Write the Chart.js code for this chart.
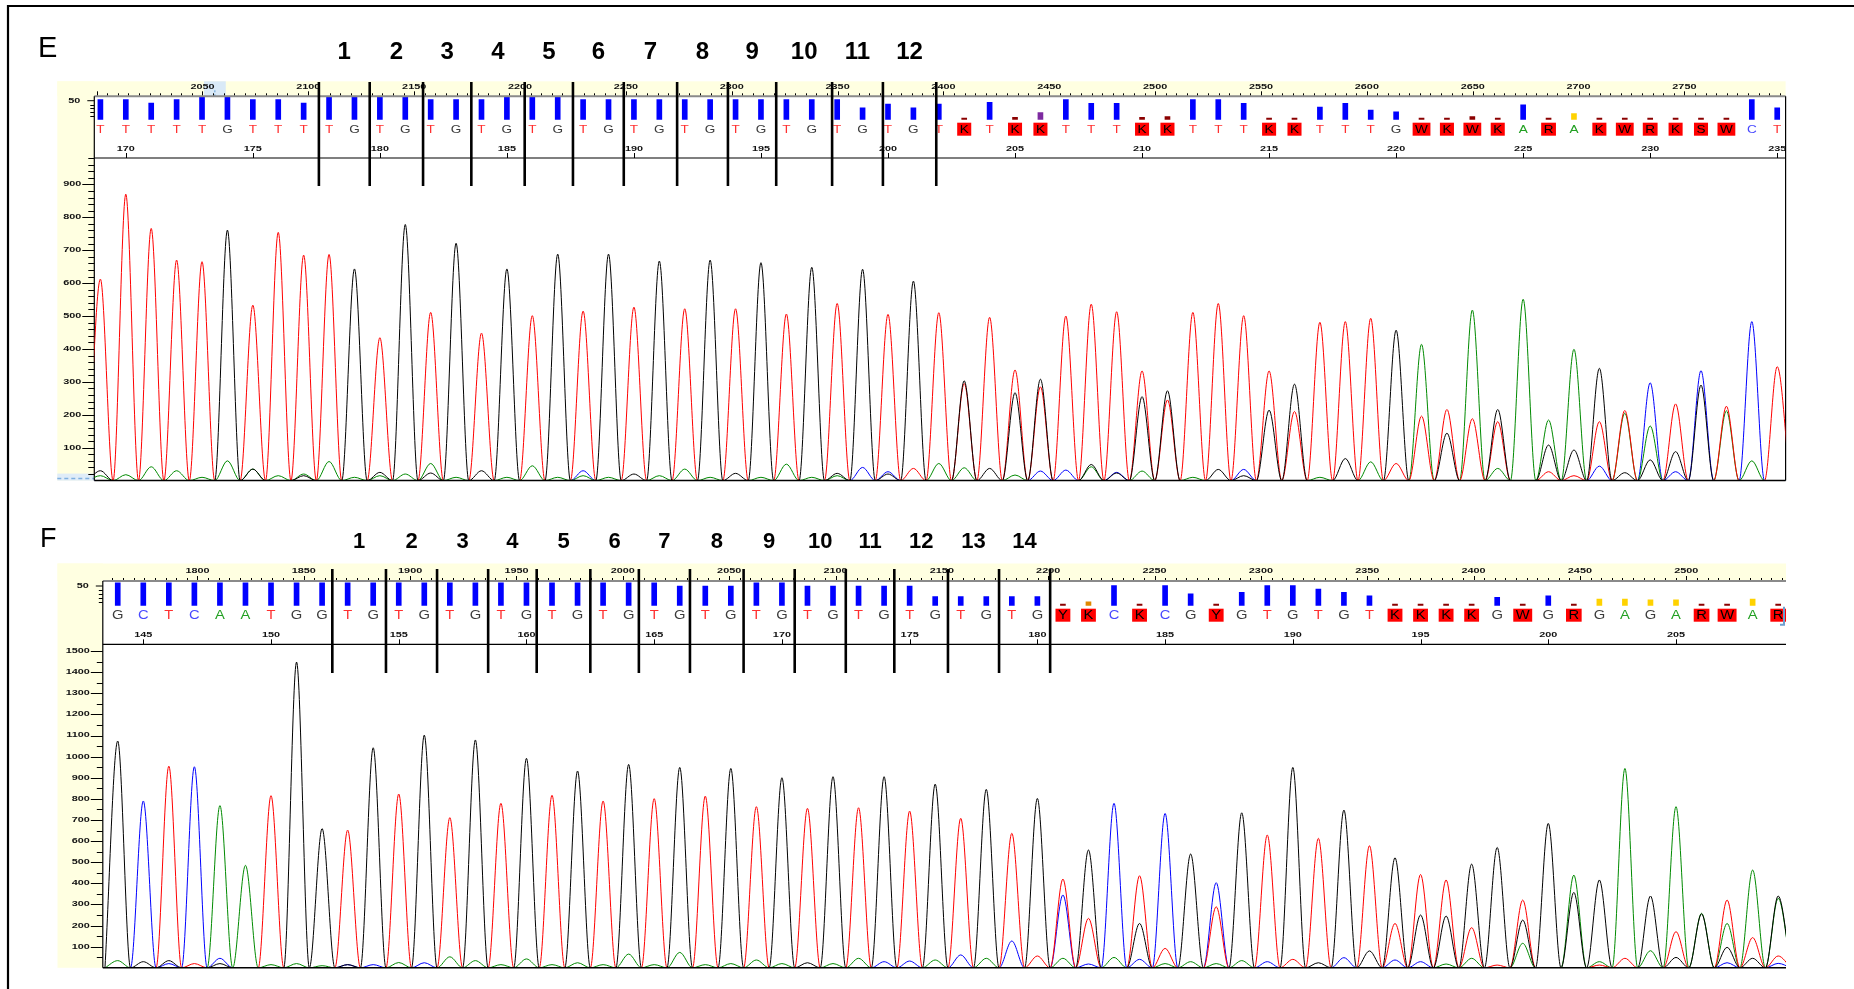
<!DOCTYPE html>
<html>
<head>
<meta charset="utf-8">
<script src="https://cdn.jsdelivr.net/npm/chart.js@4.4.1/dist/chart.umd.min.js"></script>
<style>
  html, body { margin: 0; padding: 0; background: #fff; }
  #wrap { position: relative; width: 1854px; height: 989px; overflow: hidden; }
  #wrap canvas { position: absolute; left: 0; top: 0; }
</style>
</head>
<body>
<div id="wrap">
  <canvas id="hdrE" width="1854" height="989"></canvas>
  <canvas id="trE" width="1854" height="989"></canvas>
  <canvas id="hdrF" width="1854" height="989"></canvas>
  <canvas id="trF" width="1854" height="989"></canvas>
</div>
<script>
// ---- Panel E data (bases 169..235) ----
const firstE = 169;
const basesE = ('TTTTTGTTTT' + 'GTGTGTGTGTGTGTGTGTGTGT' + 'GT' + 'KTKKTTTKKTTTKKTTTG' + 'WKWKARAKWRKSWCT').split('');
const peakT_E = [612, 870, 766, 670, 665, 0, 533, 754, 685, 687, 0, 434, 0, 511, 0, 448, 0, 501, 0, 515,
  0, 527, 0, 522, 0, 522, 0, 506, 0, 538, 0, 505, 37, 510, 295, 496, 336, 285, 500, 536,
  513, 333, 245, 511, 538, 501, 333, 210, 481, 483, 493, 52, 196, 216, 188, 179, 0, 27, 15, 179,
  213, 0, 233, 0, 226, 0, 346];
const peakG_E = [30, 0, 0, 0, 0, 761, 35, 0, 15, 0, 643, 25, 778, 23, 721, 30, 643, 0, 688, 0,
  688, 20, 667, 0, 670, 22, 662, 0, 648, 22, 642, 20, 606, 0, 303, 37, 267, 308, 0, 49,
  23, 255, 273, 0, 34, 15, 214, 293, 0, 67, 0, 457, 0, 144, 0, 216, 0, 108, 93, 341,
  24, 63, 88, 290, 0, 0, 0];
const peakA_E = [15, 18, 42, 30, 10, 60, 35, 15, 20, 58, 10, 15, 20, 52, 10, 0, 10, 45, 10, 15,
  10, 0, 15, 35, 10, 0, 10, 50, 10, 15, 0, 0, 0, 52, 39, 0, 17, 0, 0, 42,
  0, 29, 0, 10, 0, 0, 0, 0, 10, 0, 57, 0, 414, 0, 518, 37, 551, 184, 399, 0,
  205, 166, 0, 0, 212, 60, 0];
const peakC_E = [0, 0, 0, 0, 0, 0, 0, 0, 0, 0, 0, 0, 0, 0, 0, 0, 0, 0, 0, 30,
  0, 0, 0, 0, 0, 0, 0, 0, 0, 0, 40, 27, 0, 0, 0, 0, 0, 29, 32, 0,
  25, 0, 0, 0, 0, 34, 0, 0, 0, 0, 0, 0, 0, 0, 0, 0, 0, 0, 0, 44,
  0, 297, 27, 334, 0, 483, 0];
const qualE = [53, 53, 44, 53, 59, 59, 53, 53, 44, 59, 59, 59, 59, 53, 53, 53, 59, 59, 59, 53,
  53, 53, 53, 53, 53, 53, 53, 53, 53, 53, 31, 41, 31, 41, 4, 46, 6, 19, 53, 43,
  43, 6, 8, 53, 53, 43, 4, 4, 33, 43, 25, 21, 4, 4, 8, 4, 39, 4, 16, 4,
  4, 4, 4, 4, 4, 53, 31];
const scanLabelsE = [2050, 2100, 2150, 2200, 2250, 2300, 2350, 2400, 2450, 2500, 2550, 2600, 2650, 2700, 2750];
const posLabelsE = [170, 175, 180, 185, 190, 195, 200, 205, 210, 215, 220, 225, 230, 235];
const yTicksE = [100, 200, 300, 400, 500, 600, 700, 800, 900];
const markersE = [177.6, 179.6, 181.7, 183.6, 185.7, 187.6, 189.6, 191.7, 193.7, 195.6, 197.8, 199.8, 201.9];

// ---- Panel F data (bases 144..209) ----
const firstF = 144;
const basesF = ('GCTCAAT' + 'GG' + 'TGTGTGTGTGTGTGTGTGTGTGTGTGTG' + 'YKCKCGYGTGTGT' + 'KKKK' + 'GWGRGAGARWAR').split('');
const peakT_F = [0, 0, 955, 20, 0, 0, 815, 0, 0, 652, 0, 823, 0, 711, 0, 779, 0, 817, 0, 790,
  0, 801, 0, 813, 0, 763, 0, 755, 0, 758, 0, 742, 0, 708, 0, 637, 56, 420, 234, 0,
  436, 92, 0, 289, 0, 629, 40, 613, 0, 578, 210, 442, 416, 190, 13, 321, 0, 0, 13, 45,
  0, 171, 0, 321, 143, 56];
const peakG_F = [1074, 29, 34, 0, 20, 0, 0, 1448, 659, 15, 1042, 0, 1102, 0, 1079, 0, 992, 0, 932, 0,
  963, 0, 949, 0, 944, 0, 900, 24, 905, 0, 905, 0, 870, 0, 845, 0, 802, 0, 558, 0,
  210, 0, 539, 0, 734, 0, 949, 24, 747, 80, 521, 250, 245, 491, 570, 226, 684, 357, 416, 0,
  340, 49, 255, 97, 45, 340];
const peakA_F = [34, 0, 0, 0, 768, 485, 15, 20, 10, 0, 0, 25, 0, 52, 34, 15, 42, 15, 24, 15,
  65, 15, 73, 15, 20, 37, 20, 0, 20, 45, 0, 0, 37, 0, 45, 0, 0, 45, 0, 49,
  0, 20, 29, 20, 34, 0, 0, 0, 0, 0, 0, 0, 18, 45, 0, 116, 0, 439, 29, 944,
  81, 763, 258, 210, 463, 329];
const peakC_F = [0, 790, 20, 952, 45, 0, 0, 0, 0, 15, 15, 0, 24, 0, 0, 0, 0, 0, 0, 0,
  0, 0, 0, 0, 0, 0, 0, 0, 0, 0, 29, 32, 0, 61, 0, 127, 0, 345, 18, 779,
  40, 731, 0, 403, 0, 29, 0, 0, 48, 0, 37, 29, 0, 0, 0, 0, 0, 0, 0, 0,
  0, 0, 0, 24, 0, 21];
const qualF = [58, 58, 58, 58, 58, 58, 58, 58, 58, 58, 58, 58, 58, 58, 58, 58, 58, 58, 58, 58,
  58, 58, 50, 50, 50, 58, 58, 50, 50, 50, 50, 50, 23, 23, 23, 23, 23, 4, 10, 51,
  4, 51, 30, 4, 34, 51, 51, 42, 34, 25, 4, 4, 4, 4, 21, 4, 25, 4, 17, 17,
  15, 15, 4, 4, 17, 4];
const scanLabelsF = [1800, 1850, 1900, 1950, 2000, 2050, 2100, 2150, 2200, 2250, 2300, 2350, 2400, 2450, 2500];
const posLabelsF = [145, 150, 155, 160, 165, 170, 175, 180, 185, 190, 195, 200, 205];
const yTicksF = [100, 200, 300, 400, 500, 600, 700, 800, 900, 1000, 1100, 1200, 1300, 1400, 1500];
const markersF = [152.4, 154.5, 156.5, 158.5, 160.4, 162.5, 164.4, 166.4, 168.5, 170.5, 172.5, 174.4, 176.5, 178.5, 180.5];

// ---- layout ----
const W = 1854, H = 989;
const YELLOW = '#ffffe1';
const SMALL = 'bold 7px "Liberation Sans", Arial, sans-serif';
const SX = 1.55;
const AMBIG = 'KWRSYMBDHVN';
const letterColor = { T: '#ff3030', G: '#3c3c3c', A: '#22a022', C: '#4848ff' };

const geoE = {
  left: 94.3, right: 1785.6, plotTop: 158, plotBottom: 480.6, yMax: 980, yMinor: 20,
  rulerY: 96.3, barsBottom: 119.7, qMax: 61.6, hdrTop: 81.3, stripLeft: 57.3,
  xMin: 168.76, xMax: 235.33, scanMin: 1998.9, scanMax: 2797.8,
  markTop: 82, markBottom: 186, numY: 52, numSize: 24, baseFont: 11.5,
  letter: 'E', letterX: 38, letterY: 49, letterSize: 29, rightBorder: true, frame: true,
  highlight: [2050.7, 2061]
};
const geoF = {
  left: 102.8, right: 1786, plotTop: 644.3, plotBottom: 967.8, yMax: 1532, yMinor: 50,
  rulerY: 581, barsBottom: 605.7, qMax: 62.7, hdrTop: 563.5, stripLeft: 57.5,
  xMin: 143.415, xMax: 209.306, scanMin: 1755.5, scanMax: 2546.9,
  markTop: 569, markBottom: 673, numY: 542, numSize: 22, baseFont: 12.5,
  letter: 'F', letterX: 40, letterY: 540, letterSize: 27, rightBorder: false, frame: false,
  bracket: true
};

function txt(ctx, s, x, y, font, color, align, sx) {
  ctx.save();
  ctx.font = font;
  ctx.fillStyle = color;
  ctx.textBaseline = 'middle';
  ctx.textAlign = align || 'center';
  ctx.translate(x, y);
  ctx.scale(sx || 1, 1);
  ctx.fillText(s, 0, 0);
  ctx.restore();
}

function hline(ctx, x1, x2, y, color, w) {
  ctx.beginPath(); ctx.strokeStyle = color; ctx.lineWidth = w;
  ctx.moveTo(x1, y); ctx.lineTo(x2, y); ctx.stroke();
}
function vline(ctx, x, y1, y2, color, w) {
  ctx.beginPath(); ctx.strokeStyle = color; ctx.lineWidth = w;
  ctx.moveTo(x, y1); ctx.lineTo(x, y2); ctx.stroke();
}

function qvColor(q) {
  if (q >= 20) return '#0000ff';
  if (q >= 18) return '#7d2aa0';
  if (q >= 13) return '#ffd200';
  if (q >= 9) return '#e08800';
  return '#8b0000';
}

// one apex per base, with valleys half a base either side
function traceData(first, heights) {
  const pts = [];
  heights.forEach((h, i) => {
    pts.push({ x: first + i - 0.5, y: 0 });
    pts.push({ x: first + i, y: h });
  });
  pts.push({ x: first + heights.length - 0.5, y: 0 });
  return pts;
}

function padding(g, top, bottom) {
  return { left: g.left, right: W - g.right, top: top, bottom: H - bottom };
}

function headerChart(id, g, first, bases, qual, scanLabels, posLabels) {
  const baseFont = g.baseFont + 'px "Liberation Sans", Arial, sans-serif';
  return new Chart(document.getElementById(id), {
    type: 'bar',
    data: {
      datasets: [{
        data: qual.map((q, i) => ({ x: first + i, y: q })),
        backgroundColor: qual.map(qvColor),
        barThickness: 5,
        grouped: false,
        xAxisID: 'x',
        yAxisID: 'y'
      }]
    },
    options: {
      responsive: false,
      animation: false,
      events: [],
      layout: { padding: padding(g, g.rulerY, g.barsBottom) },
      plugins: { legend: { display: false }, tooltip: { enabled: false } },
      scales: {
        x: { type: 'linear', min: g.xMin, max: g.xMax, offset: false, display: false },
        xs: { type: 'linear', axis: 'x', min: g.scanMin, max: g.scanMax, offset: false, display: false },
        y: { type: 'linear', min: 0, max: g.qMax, display: false }
      }
    },
    plugins: [{
      id: 'header',
      beforeDraw(chart) {
        const ctx = chart.ctx, xs = chart.scales.xs;
        ctx.save();
        ctx.fillStyle = YELLOW;
        ctx.fillRect(g.stripLeft, g.hdrTop, g.right - g.stripLeft, g.rulerY - g.hdrTop);
        ctx.fillRect(g.stripLeft, g.hdrTop, g.left - g.stripLeft, g.plotBottom - g.hdrTop);
        if (g.highlight) {
          const a = xs.getPixelForValue(g.highlight[0]), b = xs.getPixelForValue(g.highlight[1]);
          ctx.fillStyle = '#d9e9f7';
          ctx.fillRect(a, g.hdrTop, b - a, g.rulerY - g.hdrTop);
          ctx.setLineDash([2, 2]);
          vline(ctx, (a + b) / 2, g.rulerY - 6, g.rulerY, '#5b9bd5', 1);
          ctx.setLineDash([]);
          // light blue marker at the lower left corner
          ctx.fillStyle = '#dfecf8';
          ctx.fillRect(g.stripLeft, g.plotBottom - 7, g.left - g.stripLeft, 7);
          ctx.setLineDash([4, 3]);
          hline(ctx, g.stripLeft, g.left, g.plotBottom - 2, '#7fb0e0', 1.5);
          ctx.setLineDash([]);
        }
        ctx.restore();
      },
      afterDraw(chart) {
        const ctx = chart.ctx, x = chart.scales.x, xs = chart.scales.xs, y = chart.scales.y;
        ctx.save();
        // scan ruler
        hline(ctx, g.left, g.right, g.rulerY, '#8a8a8a', 2);
        for (let s = Math.ceil(g.scanMin / 5) * 5; s <= g.scanMax; s += 5) {
          const px = Math.round(xs.getPixelForValue(s)) + 0.5;
          vline(ctx, px, g.rulerY - 1, g.rulerY - (s % 50 === 0 ? 5 : 3), '#000', 1);
        }
        scanLabels.forEach(s => txt(ctx, String(s), xs.getPixelForValue(s), g.rulerY - 9.5, SMALL, '#111', 'center', SX));
        // quality axis
        txt(ctx, '50', g.left - 14, y.getPixelForValue(50), SMALL, '#111', 'right', SX);
        hline(ctx, g.left - 7, g.left, y.getPixelForValue(50), '#000', 1);
        [10, 20, 30, 40].forEach(q => hline(ctx, g.left - 4, g.left, Math.round(y.getPixelForValue(q)) + 0.5, '#000', 1));
        // base calls
        bases.forEach((b, i) => {
          const px = x.getPixelForValue(first + i);
          const py = g.barsBottom + 9.5;
          if (px < g.left - 4 || px > g.right + 4) return;
          if (AMBIG.includes(b)) {
            ctx.font = baseFont;
            const w = ctx.measureText(b).width * 1.18 + 5;
            ctx.fillStyle = '#ff0000';
            ctx.fillRect(px - w / 2, py - 6.5, w, 13);
            txt(ctx, b, px, py + 0.5, baseFont, '#000', 'center', 1.18);
          } else {
            txt(ctx, b, px, py + 0.5, baseFont, letterColor[b], 'center', 1.18);
          }
        });
        if (g.bracket) {
          ctx.beginPath();
          ctx.strokeStyle = '#6f9fd0'; ctx.lineWidth = 2;
          ctx.moveTo(g.right - 2, g.barsBottom + 1);
          ctx.lineTo(g.right - 2, g.barsBottom + 19);
          ctx.lineTo(g.right - 6, g.barsBottom + 19);
          ctx.stroke();
        }
        // base position numbers
        posLabels.forEach(p => {
          const px = x.getPixelForValue(p);
          txt(ctx, String(p), px, g.barsBottom + 29, SMALL, '#111', 'center', SX);
          vline(ctx, Math.round(px) + 0.5, g.plotTop - 5, g.plotTop, '#000', 1);
        });
        hline(ctx, g.left, g.right, g.plotTop, '#000', 1.2);
        vline(ctx, g.left, g.rulerY, g.plotBottom, '#000', 1.2);
        if (g.rightBorder) vline(ctx, g.right, g.rulerY, g.plotBottom, '#000', 1.2);
        ctx.restore();
      }
    }]
  });
}

function traceChart(id, g, first, peaks, yTicks, markers) {
  const series = [
    { data: peaks.G, color: '#000000' },
    { data: peaks.T, color: '#ff0000' },
    { data: peaks.A, color: '#008a00' },
    { data: peaks.C, color: '#0000ff' }
  ];
  return new Chart(document.getElementById(id), {
    type: 'line',
    data: {
      datasets: series.map(s => ({
        data: traceData(first, s.data),
        borderColor: s.color,
        borderWidth: 1,
        pointRadius: 0,
        fill: false,
        tension: 0.4,
        cubicInterpolationMode: 'monotone'
      }))
    },
    options: {
      responsive: false,
      animation: false,
      events: [],
      layout: { padding: padding(g, g.plotTop, g.plotBottom) },
      plugins: { legend: { display: false }, tooltip: { enabled: false } },
      scales: {
        x: { type: 'linear', min: g.xMin, max: g.xMax, offset: false, display: false },
        y: { type: 'linear', min: 0, max: g.yMax, display: false }
      }
    },
    plugins: [{
      id: 'traceDecor',
      afterDraw(chart) {
        const ctx = chart.ctx, x = chart.scales.x, y = chart.scales.y;
        ctx.save();
        // intensity axis
        for (let v = g.yMinor; v <= g.yMax; v += g.yMinor) {
          const py = Math.round(y.getPixelForValue(v)) + 0.5;
          const major = yTicks.includes(v);
          hline(ctx, g.left - (major ? 12 : 6), g.left, py, '#000', 1);
        }
        yTicks.forEach(v => txt(ctx, String(v), g.left - 13, y.getPixelForValue(v), SMALL, '#111', 'right', SX));
        hline(ctx, g.left, g.right, g.plotBottom, '#000', 1.5);
        // repeat markers
        markers.forEach(m => vline(ctx, x.getPixelForValue(m), g.markTop, g.markBottom, '#000', 2.6));
        for (let i = 0; i < markers.length - 1; i++) {
          const cx = (x.getPixelForValue(markers[i]) + x.getPixelForValue(markers[i + 1])) / 2;
          txt(ctx, String(i + 1), cx, g.numY, 'bold ' + g.numSize + 'px "Liberation Sans", Arial, sans-serif', '#000', 'center', 1);
        }
        txt(ctx, g.letter, g.letterX, g.letterY, g.letterSize + 'px "Liberation Sans", Arial, sans-serif', '#000', 'left', 1);
        if (g.frame) {
          hline(ctx, 7, W, 6, '#000', 2.2);
          vline(ctx, 8, 5, H, '#000', 2.2);
        }
        ctx.restore();
      }
    }]
  });
}

headerChart('hdrE', geoE, firstE, basesE, qualE, scanLabelsE, posLabelsE);
traceChart('trE', geoE, firstE, { T: peakT_E, G: peakG_E, A: peakA_E, C: peakC_E }, yTicksE, markersE);
headerChart('hdrF', geoF, firstF, basesF, qualF, scanLabelsF, posLabelsF);
traceChart('trF', geoF, firstF, { T: peakT_F, G: peakG_F, A: peakA_F, C: peakC_F }, yTicksF, markersF);
</script>
</body>
</html>
